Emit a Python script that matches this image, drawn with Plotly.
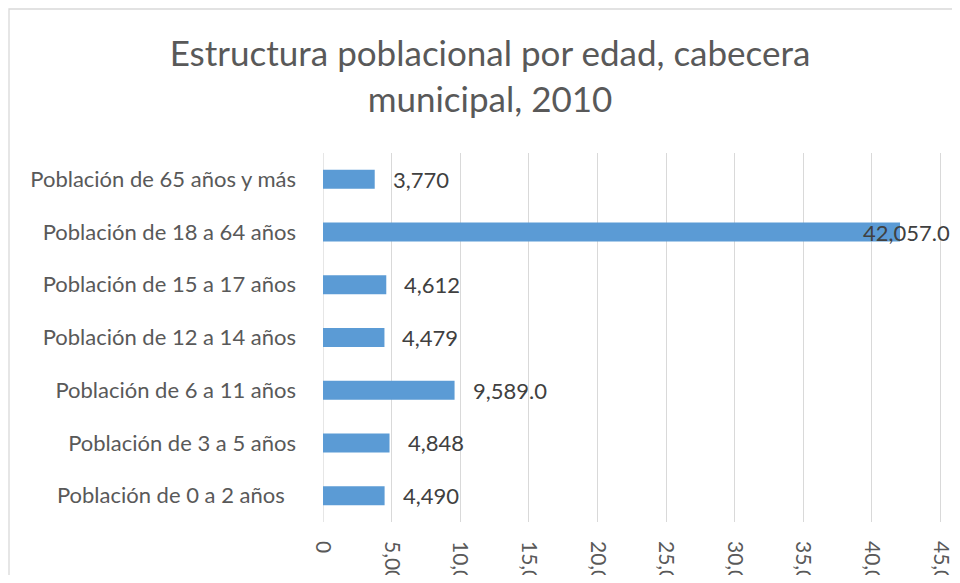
import plotly.graph_objects as go

# categories listed bottom to top, as plotly draws horizontal bars
categories = [
    "Población de 0 a 2 años\u00a0\u00a0",
    "Población de 3 a 5 años",
    "Población de 6 a 11 años",
    "Población de 12 a 14 años",
    "Población de 15 a 17 años",
    "Población de 18 a 64 años",
    "Población de 65 años y más",
]
population = [4490, 4848, 9589.0, 4479, 4612, 42057.0, 3770]
label_decimals = [0, 0, 1, 0, 0, 1, 0]

tick_values = [0, 5000, 10000, 15000, 20000, 25000, 30000, 35000, 40000, 45000]
tick_labels = ["0", "5,000", "10,000", "15,000", "20,000", "25,000", "30,000", "35,000", "40,000", "45,000"]

TEXT = "#595959"
FONT = "Lato, Noto Sans, sans-serif"

labels = [f"{v:,.{d}f}" for v, d in zip(population, label_decimals)]

# the page body has an 8px margin, so the figure sits at (8, 8)
W, H = 944, 567
L, R, T, B = 315, 0, 145, 53
X_MAX = 45845

fig = go.Figure()
fig.add_bar(
    y=categories,
    x=population,
    orientation="h",
    marker_color="#5B9BD5",
    marker_line_width=0,
    width=0.36,
    hoverinfo="x+y",
)

for cat, val, lab in zip(categories, population, labels):
    near_edge = val > 0.85 * X_MAX
    fig.add_annotation(
        x=X_MAX if near_edge else val, y=cat, text=lab,
        xanchor="right" if near_edge else "left", yanchor="middle",
        xshift=0 if near_edge else 16, showarrow=False,
        font={"size": 22, "color": "#404040", "family": FONT},
    )

pw, ph = W - L - R, H - T - B
fig.add_shape(
    type="rect", xref="paper", yref="paper",
    x0=(1 - L) / pw, x1=1.2, y0=-0.5, y1=1 + (T - 1) / ph,
    line={"color": "#D9D9D9", "width": 1.3}, fillcolor="rgba(0,0,0,0)", layer="below",
)

fig.update_layout(
    width=W, height=H,
    paper_bgcolor="white", plot_bgcolor="white",
    margin={"l": L, "r": R, "t": T, "b": B, "autoexpand": False},
    font={"family": FONT, "color": TEXT},
    title={
        "text": "Estructura poblacional por edad, cabecera<br>municipal, 2010",
        "x": 482 / W, "xanchor": "center", "y": 1 - 58 / H, "yanchor": "middle",
        "font": {"size": 35, "color": TEXT, "family": FONT},
    },
    showlegend=False,
    bargap=0.64,
)
fig.update_xaxes(
    range=[0, X_MAX],
    tickvals=tick_values, ticktext=tick_labels, tickangle=90,
    tickfont={"size": 21, "color": TEXT},
    showgrid=True, gridcolor="#D9D9D9", gridwidth=1.3,
    zeroline=False, showline=False, ticks="",
    ticklabelstandoff=18, automargin=False, ticklabeloverflow="allow",
)
fig.update_yaxes(
    tickfont={"size": 22, "color": TEXT},
    showgrid=False, zeroline=False, showline=False,
    ticks="", ticklabelstandoff=26, automargin=False,
)
fig.add_vline(x=0, line_color="#D9D9D9", line_width=1.3, layer="below")

fig.write_html("out.html")
